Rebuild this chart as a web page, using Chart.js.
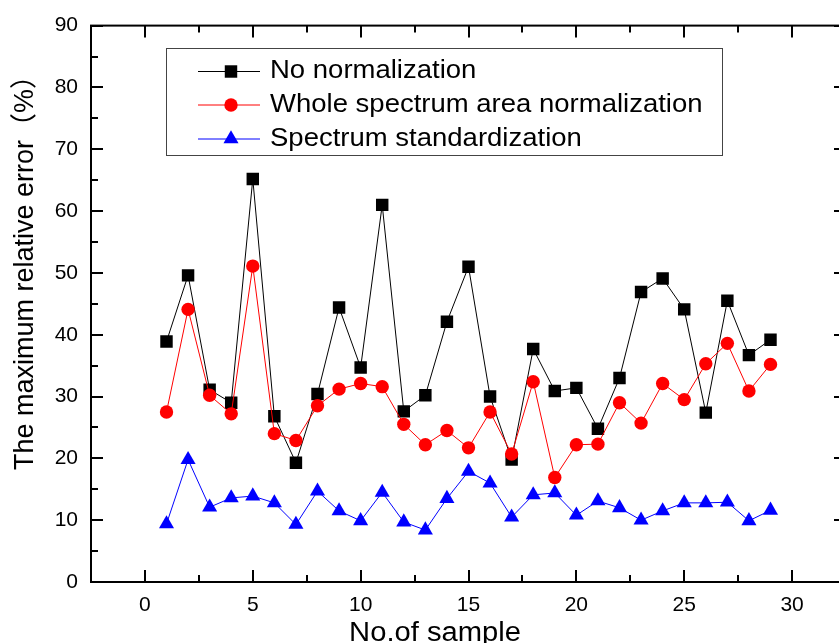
<!DOCTYPE html>
<html>
<head>
<meta charset="utf-8">
<title>Maximum relative error by sample</title>
<script src="https://cdn.jsdelivr.net/npm/chart.js@4.4.0/dist/chart.umd.min.js"></script>
<style>
    html, body { margin: 0; padding: 0; background: #fff; overflow: hidden; }
    canvas { display: block; }
</style>
</head>
<body>
<canvas id="errorChart" width="860" height="643"></canvas>
<script>
// Sample numbers and the three error series
const sampleNo = [1, 2, 3, 4, 5, 6, 7, 8, 9, 10, 11, 12, 13, 14, 15, 16, 17, 18, 19, 20, 21, 22, 23, 24, 25, 26, 27, 28, 29];
const noNormalization = [38.9, 49.6, 31.1, 29.0, 65.2, 26.8, 19.3, 30.4, 44.4, 34.7, 61.0, 27.6, 30.2, 42.1, 51.0, 30.0, 19.8, 37.7, 30.9, 31.4, 24.8, 33.0, 46.9, 49.1, 44.1, 27.4, 45.5, 36.7, 39.2];
const areaNormalization = [27.5, 44.1, 30.2, 27.2, 51.1, 24.0, 22.9, 28.5, 31.2, 32.1, 31.6, 25.5, 22.2, 24.5, 21.7, 27.5, 20.7, 32.4, 16.9, 22.2, 22.3, 29.0, 25.7, 32.1, 29.5, 35.3, 38.6, 30.9, 35.2];
const standardization = [9.4, 19.8, 12.1, 13.6, 13.9, 12.8, 9.3, 14.7, 11.5, 9.9, 14.5, 9.7, 8.4, 13.5, 17.9, 16.0, 10.5, 14.1, 14.4, 10.8, 13.1, 12.0, 10.0, 11.5, 12.8, 12.8, 12.9, 9.9, 11.6];

const seriesLabels = ['No normalization', 'Whole spectrum area normalization', 'Spectrum standardization'];
const xTicks = [0, 5, 10, 15, 20, 25, 30];
const yTicks = [0, 10, 20, 30, 40, 50, 60, 70, 80, 90];
const xTitle = 'No.of sample';
const yTitle = 'The maximum relative error（%）';

const FONT = '"Liberation Sans", Arial, "Noto Sans CJK SC", sans-serif';

document.addEventListener('DOMContentLoaded', function() {
    initErrorChart();
});

/**
 * Draw a marker the same way Chart.js does for its point styles
 */
function drawMarker(ctx, style, radius, x, y) {
    ctx.beginPath();
    if (style === 'rect') {
        const s = radius * Math.SQRT1_2;
        ctx.rect(x - s, y - s, 2 * s, 2 * s);
    } else if (style === 'triangle') {
        ctx.moveTo(x, y - radius);
        ctx.lineTo(x + radius * Math.sin(Math.PI / 3), y + radius / 2);
        ctx.lineTo(x - radius * Math.sin(Math.PI / 3), y + radius / 2);
        ctx.closePath();
    } else {
        ctx.arc(x, y, radius, 0, Math.PI * 2);
    }
    ctx.fill();
}

// Origin-style frame with inward ticks, axis titles and boxed legend
const originPlugin = {
    id: 'originFrame',
    beforeDatasetsDraw(chart) {
        const { ctx, chartArea: a, scales: { x, y } } = chart;
        ctx.save();
        ctx.strokeStyle = '#000';
        ctx.lineWidth = 2;
        ctx.strokeRect(a.left, a.top, a.right - a.left, a.bottom - a.top);

        ctx.beginPath();
        const xMinor = xTicks.map(v => v + 2.5);
        xTicks.concat(xMinor).forEach(v => {
            const len = xTicks.includes(v) ? 12 : 7;
            const px = Math.round(x.getPixelForValue(v));
            ctx.moveTo(px, a.bottom); ctx.lineTo(px, a.bottom - len);
            ctx.moveTo(px, a.top); ctx.lineTo(px, a.top + len);
        });
        const yMinor = yTicks.slice(0, -1).map(v => v + 5);
        yTicks.concat(yMinor).forEach(v => {
            const len = yTicks.includes(v) ? 12 : 7;
            const py = Math.round(y.getPixelForValue(v));
            ctx.moveTo(a.left, py); ctx.lineTo(a.left + len, py);
            ctx.moveTo(a.right, py); ctx.lineTo(a.right - len, py);
        });
        ctx.stroke();

        // axis titles
        ctx.fillStyle = '#000';
        ctx.textAlign = 'center';
        ctx.textBaseline = 'alphabetic';
        ctx.save();
        ctx.font = '27px ' + FONT;
        ctx.translate(33, 266);
        ctx.rotate(-Math.PI / 2);
        ctx.fillText(yTitle, 0, 0);
        ctx.restore();

        ctx.save();
        ctx.font = '27px ' + FONT;
        ctx.translate(435, 641);
        ctx.scale(1.08, 1);
        ctx.fillText(xTitle, 0, 0);
        ctx.restore();
        ctx.restore();
    },
    afterDraw(chart) {
        const ctx = chart.ctx;
        ctx.save();
        ctx.fillStyle = '#fff';
        ctx.fillRect(166, 48, 556, 107);
        ctx.strokeStyle = '#444';
        ctx.lineWidth = 1;
        ctx.strokeRect(166.5, 48.5, 556, 107);

        const rows = [71.5, 105, 139];
        chart.data.datasets.forEach((ds, i) => {
            const ry = rows[i];
            ctx.strokeStyle = ds.borderColor;
            ctx.lineWidth = 1;
            ctx.beginPath();
            ctx.moveTo(198, ry);
            ctx.lineTo(260, ry);
            ctx.stroke();
            ctx.fillStyle = ds.backgroundColor;
            drawMarker(ctx, ds.pointStyle, ds.pointRadius, 231, ry);

            ctx.save();
            ctx.fillStyle = '#000';
            ctx.font = '25px ' + FONT;
            ctx.textAlign = 'left';
            ctx.textBaseline = 'middle';
            ctx.translate(270, ry);
            ctx.scale(1.1, 1);
            ctx.fillText(ds.label, 0, 0);
            ctx.restore();
        });
        ctx.restore();
    }
};

/**
 * Build the line chart
 */
function initErrorChart() {
    const ctx = document.getElementById('errorChart');
    if (!ctx) return;

    const toPoints = values => sampleNo.map((n, i) => ({ x: n, y: values[i] }));

    new Chart(ctx, {
        type: 'line',
        data: {
            datasets: [
                {
                    label: seriesLabels[0],
                    data: toPoints(noNormalization),
                    borderColor: '#000000',
                    backgroundColor: '#000000',
                    borderWidth: 1,
                    pointStyle: 'rect',
                    pointRadius: 8.8,
                    pointBorderWidth: 0,
                    order: 3
                },
                {
                    label: seriesLabels[1],
                    data: toPoints(areaNormalization),
                    borderColor: '#ff0000',
                    backgroundColor: '#ff0000',
                    borderWidth: 1,
                    pointStyle: 'circle',
                    pointRadius: 6.7,
                    pointBorderWidth: 0,
                    order: 2
                },
                {
                    label: seriesLabels[2],
                    data: toPoints(standardization),
                    borderColor: '#0000ff',
                    backgroundColor: '#0000ff',
                    borderWidth: 1,
                    pointStyle: 'triangle',
                    pointRadius: 8.7,
                    pointBorderWidth: 0,
                    order: 1
                }
            ]
        },
        options: {
            responsive: false,
            animation: false,
            layout: { padding: { top: 24, right: 14, left: 0, bottom: 0 } },
            plugins: {
                legend: { display: false },
                tooltip: { enabled: false }
            },
            scales: {
                x: {
                    type: 'linear',
                    min: -2.5,
                    max: 32.5,
                    grid: { display: false, drawTicks: false },
                    border: { display: false },
                    afterBuildTicks: s => { s.ticks = xTicks.map(v => ({ value: v })); },
                    afterFit: s => { s.height = 61; },
                    ticks: {
                        color: '#000',
                        font: { size: 21, family: FONT },
                        padding: 11,
                        maxRotation: 0,
                        autoSkip: false
                    }
                },
                y: {
                    min: 0,
                    max: 90,
                    grid: { display: false, drawTicks: false },
                    border: { display: false },
                    afterBuildTicks: s => { s.ticks = yTicks.map(v => ({ value: v })); },
                    afterFit: s => { s.width = 91; },
                    ticks: {
                        color: '#000',
                        font: { size: 21, family: FONT },
                        padding: 13,
                        autoSkip: false
                    }
                }
            }
        },
        plugins: [originPlugin]
    });
}
</script>
</body>
</html>
